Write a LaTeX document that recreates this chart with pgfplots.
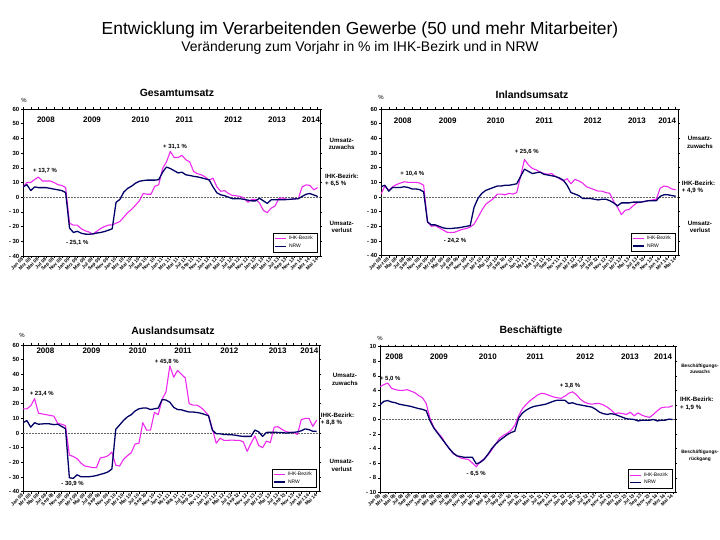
\documentclass[border=0pt]{standalone}
\usepackage{pgfplots}
\usepackage{pgfplotstable}
\pgfplotsset{compat=1.18}
\usepackage{fontspec}
\setmainfont{Liberation Sans}
\definecolor{ihk}{RGB}{238,40,238}
\definecolor{nrw}{RGB}{0,0,102}

\pgfplotstableread{
i ihk nrw
0 7 7
1 10 8.5
2 10 4.5
3 12 7
4 13.7 6.5
5 11 6.5
6 11 6.5
7 11 6
8 10 5.5
9 8.5 5
10 8 4.5
11 6.5 3.2
12 -17.7 -21
13 -19 -24
14 -19 -23.2
15 -21.5 -24.5
16 -22.8 -25.1
17 -23.7 -25.2
18 -25.1 -25
19 -23.3 -24.4
20 -21.3 -24
21 -20 -23.4
22 -19 -22.5
23 -18.8 -21.5
24 -17.7 -3.5
25 -16.5 -1.5
26 -13.5 3.5
27 -10.5 6
28 -8.3 7.5
29 -5.5 9.5
30 -2.5 10.8
31 2.5 11.3
32 2 11.6
33 2 11.6
34 7.5 11.6
35 8.4 11.9
36 19.5 17
37 24 20.5
38 31.1 19.5
39 27 18
40 27 16.5
41 28.5 17
42 25.5 15.2
43 24 14.8
44 17.5 14.2
45 16 13.8
46 15.2 13.2
47 13.8 12.5
48 11.5 11.8
49 13 7
50 7 3
51 4 1.6
52 4.5 1
53 2.5 0
54 1.2 -1
55 1 -1
56 0.5 -1
57 -0.5 -1.5
58 -3.5 -2
59 -1.5 -2.5
60 -1.5 -2.5
61 -4 -0.7
62 -9 -2.5
63 -10.5 -4.2
64 -7.5 -1.8
65 -6 -1.8
66 -0.8 -1.8
67 -0.5 -1.8
68 -1.5 -1.6
69 -1.5 -1.4
70 -1 -1.2
71 -1 -1
72 7 0.5
73 8.4 2
74 8 2.5
75 5 1.5
76 6.5 0.5
}\gesamt

\pgfplotstableread{
i ihk nrw
0 2 7
1 7.5 8
2 4.5 4
3 7 6.5
4 8.5 6.5
5 9.5 6.5
6 10.4 7
7 10 6.5
8 10 5.5
9 10 5.5
10 9.5 5
11 8 3.5
12 -17 -17
13 -20 -19
14 -19.5 -19
15 -21 -20
16 -22.5 -21
17 -24 -21.5
18 -24.2 -21.5
19 -24 -21.2
20 -23 -21
21 -22 -20.5
22 -21.5 -20
23 -20.5 -19.5
24 -18.5 -7
25 -14 -1
26 -9 2.5
27 -5 4.5
28 -3 5.5
29 -1 6.5
30 2 7.5
31 2 7.5
32 1.5 8
33 2.5 8
34 2 8.5
35 3 9
36 14 14
37 25.6 19
38 22 17.5
39 19.5 16
40 18.5 16.5
41 17 17
42 16 15.5
43 15.5 15
44 16 14.5
45 14 14
46 12.5 13
47 11 11.5
48 12.5 8
49 9 3
50 12 2
51 11 1
52 9.5 -1
53 7 -1
54 6 -1
55 5 -1.5
56 4 -2
57 4 -1.5
58 3 -1.5
59 2.5 -2.5
60 -3 -4
61 -7 -6
62 -12 -4
63 -9 -4
64 -8.5 -4
65 -6 -3.5
66 -4 -3.5
67 -3.5 -3.5
68 -3 -3
69 -2.5 -2.5
70 -2 -2.5
71 -1.5 -2.5
72 6 0.5
73 7.5 1.5
74 7 1.5
75 5.5 1
76 4.9 0.5
}\inland

\pgfplotstableread{
i ihk nrw
0 16.5 7
1 16.5 8.5
2 18.5 4
3 23.4 7
4 13.5 6
5 13 6.2
6 12.5 6.4
7 12 6.2
8 11.5 5.7
9 6.5 6
10 6 4.5
11 5 3
12 -15 -30.5
13 -16 -30.9
14 -17.5 -28.5
15 -20.5 -29.8
16 -22.5 -29.8
17 -23 -29.8
18 -23.6 -29.5
19 -23.6 -29
20 -17 -28.2
21 -16.5 -27.5
22 -15.5 -26.5
23 -13 -24.5
24 -22 2.5
25 -22.5 5.5
26 -18 8.5
27 -15.5 11
28 -13.5 12.5
29 -7.5 15
30 -7 16.5
31 7 17
32 2 17
33 2 16
34 14 16.5
35 12.5 17
36 23 22.8
37 28 22.5
38 45.8 21
39 38 17.5
40 42.7 16
41 40 15.8
42 37.5 15
43 20 14.3
44 19 14.3
45 19 14
46 17.5 13.5
47 15 12.7
48 12 11.8
49 3 2
50 -7 -0.5
51 -3.5 -0.5
52 -5 -1
53 -5 -1.1
54 -4.8 -1.2
55 -5 -1.5
56 -5 -2
57 -6 -2.3
58 -12.5 -2.3
59 -7 -2.3
60 -2 2
61 -8.5 0.8
62 -10 -2.3
63 -5.5 0.4
64 -6.5 0.5
65 4 0.5
66 4.3 0.4
67 2.5 0.3
68 1 0
69 0.5 0.2
70 0.5 0.4
71 -1 0.8
72 9 1.5
73 10 2.8
74 10 2.3
75 4.5 1.2
76 8.8 1.1
}\ausland

\pgfplotstableread{
i ihk nrw
0 4.5 2.0
1 4.8 2.5
2 5.0 2.6
3 4.3 2.4
4 4.1 2.3
5 4.0 2.1
6 4.0 2.0
7 4.1 1.9
8 3.9 1.8
9 3.7 1.65
10 3.3 1.5
11 3.0 1.4
12 2.2 1.2
13 0.1 -0.2
14 -1.1 -1.2
15 -1.8 -1.9
16 -2.4 -2.6
17 -3.3 -3.3
18 -4.0 -4.0
19 -4.7 -4.6
20 -5.0 -5.0
21 -5.3 -5.1
22 -5.4 -5.2
23 -5.5 -5.2
24 -6.0 -5.2
25 -6.5 -6.1
26 -5.8 -5.9
27 -5.4 -5.5
28 -4.9 -4.8
29 -4.2 -4.0
30 -3.4 -3.4
31 -2.6 -2.9
32 -2.2 -2.5
33 -1.9 -2.1
34 -1.5 -1.8
35 -0.8 -1.6
36 0.5 0.2
37 1.5 0.9
38 2.1 1.3
39 2.6 1.6
40 3.0 1.8
41 3.4 1.9
42 3.6 2.0
43 3.5 2.1
44 3.3 2.3
45 3.1 2.5
46 3.0 2.65
47 2.9 2.65
48 3.2 2.65
49 3.6 2.2
50 3.8 2.3
51 3.4 2.1
52 2.8 2.0
53 2.4 1.9
54 2.2 1.8
55 2.1 1.7
56 2.2 1.4
57 2.2 1.0
58 2.0 0.8
59 1.7 0.7
60 1.3 0.8
61 0.8 0.7
62 0.9 0.5
63 0.8 0.3
64 0.7 0.1
65 1.0 0.05
66 0.5 0
67 0.9 -0.2
68 0.6 -0.1
69 0.4 -0.1
70 0.3 -0.1
71 0.7 0
72 1.2 -0.2
73 1.6 -0.1
74 1.7 -0.1
75 1.7 0.05
76 1.9 0
}\besch

\pgfplotsset{
  panel/.style={
    scale only axis,
    xmin=0, xmax=76.6,
    xtick={0,2,...,76},
    xticklabels={Jan 08,Mrz 08,Mai 08,Jul 08,Sep 08,Nov 08,Jan 09,Mrz 09,Mai 09,Jul 09,Sep 09,Nov 09,Jan 10,Mrz 10,Mai 10,Jul 10,Sep 10,Nov 10,Jan 11,Mrz 11,Mai 11,Jul 11,Sep 11,Nov 11,Jan 12,Mrz 12,Mai 12,Jul 12,Sep 12,Nov 12,Jan 13,Mrz 13,Mai 13,Jul 13,Sep 13,Nov 13,Jan 14,Mrz 14,Mai 14},
    x tick label style={rotate=45, anchor=east, font=\bfseries\fontsize{4.8}{5}\selectfont, inner sep=0.8pt},
    y tick label style={font=\bfseries\fontsize{6}{7}\selectfont, inner sep=1.5pt},
    tick align=outside,
    major tick length=2bp,
    tick style={black, line width=0.4pt},
    axis line style={black, line width=0.5pt},
    legend style={font=\fontsize{5}{5.5}\selectfont, draw=black, line width=0.4pt, at={(1,0)}, xshift=-3bp, yshift=4bp, anchor=south east, inner xsep=2pt, inner ysep=1pt, row sep=-1.5pt, cells={anchor=west}},
    legend image code/.code={\draw[##1] (0bp,0bp) -- (11bp,0bp);},
  },
  umsatz/.style={ymin=-40, ymax=60, ytick={-40,-30,...,60},
    yticklabels={- 40,- 30,- 20,- 10,0,10,20,30,40,50,60}},
  ihkline/.style={ihk, line width=1.1pt, line join=round},
  nrwline/.style={nrw, line width=1.3pt, line join=round},
  zeroline/.style={forget plot, black!60, densely dotted, line width=0.5pt},
}
\newcommand{\yr}{\bfseries\fontsize{8}{9}\selectfont}
\newcommand{\ann}{\bfseries\fontsize{6.2}{7.4}\selectfont}
\newcommand{\pk}{\bfseries\fontsize{6}{7}\selectfont}

\begin{document}
\begin{tikzpicture}[x=1bp, y=1bp]
\useasboundingbox (0,0) rectangle (720,540);
\node at (360,510) {\fontsize{17.5}{20}\selectfont Entwicklung im Verarbeitenden Gewerbe (50 und mehr Mitarbeiter)};
\node at (360,492) {\fontsize{14}{16}\selectfont Veränderung zum Vorjahr in \% im IHK-Bezirk und in NRW};

% ---------- Gesamtumsatz ----------
\begin{axis}[panel, umsatz, at={(23bp,284bp)}, anchor=south west, width=297bp, height=147bp]
\addplot[zeroline] coordinates {(0,0) (76.6,0)};
\addplot[ihkline] table[x=i, y=ihk] {\gesamt};
\addplot[nrwline] table[x=i, y=nrw] {\gesamt};
\legend{IHK-Bezirk, NRW}
\node[font=\yr] at (axis cs:5.9,53) {2008};
\node[font=\yr] at (axis cs:17.8,53) {2009};
\node[font=\yr] at (axis cs:30.3,53) {2010};
\node[font=\yr] at (axis cs:41.6,53) {2011};
\node[font=\yr] at (axis cs:54.2,53) {2012};
\node[font=\yr] at (axis cs:65.5,53) {2013};
\node[font=\yr] at (axis cs:74.3,53) {2014};
\end{axis}
\node[font=\bfseries\fontsize{10.5}{12}\selectfont] at (177,446.7) {Gesamtumsatz};
\node[font=\fontsize{6}{7}\selectfont] at (24,440) {\%};
\node[font=\pk] at (45,369) {+ 13,7 \%};
\node[font=\pk] at (175,393.3) {+ 31,1 \%};
\node[font=\pk] at (77.2,297.3) {- 25,1 \%};
\node[font=\ann, align=center] at (341.7,396.3) {Umsatz-\\zuwachs};
\node[font=\ann, align=left, anchor=west, inner sep=0pt] at (325,359.5) {IHK-Bezirk:\\+ 6,5 \%};
\node[font=\ann, align=center] at (341.7,313.2) {Umsatz-\\verlust};

% ---------- Inlandsumsatz ----------
\begin{axis}[panel, umsatz, at={(381bp,284.3bp)}, anchor=south west, width=297bp, height=146.7bp]
\addplot[zeroline] coordinates {(0,0) (76.6,0)};
\addplot[ihkline] table[x=i, y=ihk] {\inland};
\addplot[nrwline] table[x=i, y=nrw] {\inland};
\legend{IHK-Bezirk, NRW}
\node[font=\yr] at (axis cs:5.6,52) {2008};
\node[font=\yr] at (axis cs:17.2,52) {2009};
\node[font=\yr] at (axis cs:29.6,52) {2010};
\node[font=\yr] at (axis cs:42.1,52) {2011};
\node[font=\yr] at (axis cs:54.6,52) {2012};
\node[font=\yr] at (axis cs:66,52) {2013};
\node[font=\yr] at (axis cs:73.8,52) {2014};
\end{axis}
\node[font=\bfseries\fontsize{10.5}{12}\selectfont] at (532,445.7) {Inlandsumsatz};
\node[font=\fontsize{6}{7}\selectfont] at (381,443) {\%};
\node[font=\pk] at (412.3,365.7) {+ 10,4 \%};
\node[font=\pk] at (526.7,387.7) {+ 25,6 \%};
\node[font=\pk] at (455,299) {- 24,2 \%};
\node[font=\ann, align=center] at (700,397.7) {Umsatz-\\zuwachs};
\node[font=\ann, align=left, anchor=west, inner sep=0pt] at (681.7,352.7) {IHK-Bezirk:\\+ 4,9 \%};
\node[font=\ann, align=center] at (700,313.2) {Umsatz-\\verlust};

% ---------- Auslandsumsatz ----------
\begin{axis}[panel, umsatz, at={(23bp,48.3bp)}, anchor=south west, width=296bp, height=146.7bp]
\addplot[zeroline] coordinates {(0,0) (76.6,0)};
\addplot[ihkline] table[x=i, y=ihk] {\ausland};
\addplot[nrwline] table[x=i, y=nrw] {\ausland};
\legend{IHK-Bezirk, NRW}
\node[font=\yr] at (axis cs:5.8,56) {2008};
\node[font=\yr] at (axis cs:17.7,56) {2009};
\node[font=\yr] at (axis cs:29.7,56) {2010};
\node[font=\yr] at (axis cs:41.4,56) {2011};
\node[font=\yr] at (axis cs:53.4,56) {2012};
\node[font=\yr] at (axis cs:65.9,56) {2013};
\node[font=\yr] at (axis cs:74.1,56) {2014};
\end{axis}
\node[font=\bfseries\fontsize{10.5}{12}\selectfont] at (173,209) {Auslandsumsatz};
\node[font=\fontsize{6}{7}\selectfont] at (22,205) {\%};
\node[font=\pk] at (41.7,145.7) {+ 23,4 \%};
\node[font=\pk] at (166.7,178.3) {+ 45,8 \%};
\node[font=\pk] at (72.5,55.7) {- 30,9 \%};
\node[font=\ann, align=center] at (345,160.7) {Umsatz-\\zuwachs};
\node[font=\ann, align=left, anchor=west, inner sep=0pt] at (320.7,121) {IHK-Bezirk:\\+ 8,8 \%};
\node[font=\ann, align=center] at (341.7,74.5) {Umsatz-\\verlust};

% ---------- Beschaeftigte ----------
\begin{axis}[panel, at={(380bp,47.7bp)}, anchor=south west, width=295bp, height=145.6bp,
  ymin=-10, ymax=10, ytick={-10,-8,...,10},
  yticklabels={- 10,- 8,- 6,- 4,- 2,0,2,4,6,8,10}]
\addplot[zeroline] coordinates {(0,0) (76.6,0)};
\addplot[ihkline] table[x=i, y=ihk] {\besch};
\addplot[nrwline] table[x=i, y=nrw] {\besch};
\legend{IHK-Bezirk, NRW}
\node[font=\yr] at (axis cs:3.7,8.65) {2008};
\node[font=\yr] at (axis cs:15.3,8.65) {2009};
\node[font=\yr] at (axis cs:28,8.65) {2010};
\node[font=\yr] at (axis cs:40.3,8.65) {2011};
\node[font=\yr] at (axis cs:53.3,8.65) {2012};
\node[font=\yr] at (axis cs:64.9,8.65) {2013};
\node[font=\yr] at (axis cs:73.5,8.65) {2014};
\end{axis}
\node[font=\bfseries\fontsize{10.5}{12}\selectfont] at (531,209) {Beschäftigte};
\node[font=\fontsize{6}{7}\selectfont] at (380,202) {\%};
\node[font=\pk] at (390.3,161) {+ 5,0 \%};
\node[font=\pk] at (570,154) {+ 3,8 \%};
\node[font=\pk] at (476.2,65.7) {- 6,5 \%};
\node[font=\bfseries\fontsize{4.8}{6.2}\selectfont, align=center] at (700,170.8) {Beschäftigungs-\\zuwachs};
\node[font=\ann, align=left, anchor=west, inner sep=0pt] at (680,136.3) {IHK-Bezirk:\\+ 1,9 \%};
\node[font=\bfseries\fontsize{4.8}{6.2}\selectfont, align=center] at (700,84.2) {Beschäftigungs-\\rückgang};
\end{tikzpicture}
\end{document}
